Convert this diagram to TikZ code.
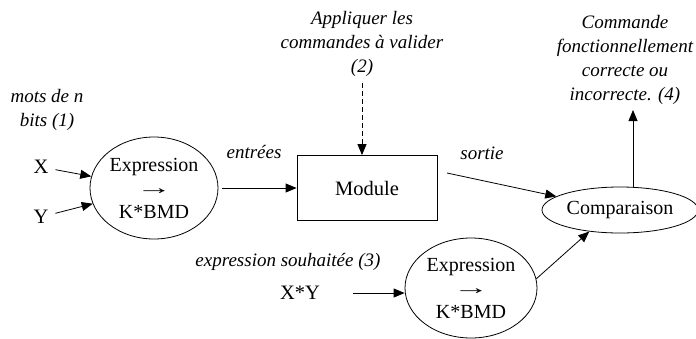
\documentclass[tikz,border=0pt]{standalone}
\usepackage{graphicx}
\usepackage{fontspec}
\setmainfont{Liberation Serif}
\usetikzlibrary{arrows.meta,shapes.geometric}
\newcommand{\longarr}{\scalebox{1.8}[1]{→}}
\begin{document}
\begin{tikzpicture}[x=1pt,y=-1pt,
  txt/.style={font=\fontsize{20.5}{23}\selectfont, inner sep=1pt},
  itx/.style={font=\fontsize{19}{24}\selectfont\itshape, align=center, inner sep=0pt},
  ell/.style={ellipse, draw, line width=0.8pt, inner sep=0pt, align=center, font=\fontsize{20}{23.5}\selectfont},
  arr/.style={-{Triangle[length=11pt,width=9pt]}, line width=0.8pt},
]
\useasboundingbox (0,0) rectangle (696,338);

\node[itx] (mots) at (47,110) {mots de n\\bits (1)};
\node[txt] (X) at (41,167) {X};
\node[txt] (Y) at (41,217) {Y};
\node[ell, minimum width=128pt, minimum height=102pt] (e1) at (154,188) {Expression\\\longarr\\K*BMD};
\node[itx] (ent) at (254,152) {entrées};
\node[txt, draw, line width=0.8pt, minimum width=140pt, minimum height=65pt] (mod) at (367,188) {Module};
\node[itx] (app) at (362,44) {Appliquer les\\commandes à valider\\(2)};
\node[itx] (sor) at (482,153) {sortie};
\node[ell, minimum width=156pt, minimum height=46pt] (comp) at (620,210) {Comparaison};
\node[itx] (cmd) at (625,60) {Commande\\fonctionnellement\\correcte ou\\incorrecte. (4)};
\node[itx] (sou) at (288,262) {expression souhaitée (3)};
\node[txt] (xy) at (300,293) {X*Y};
\node[ell, minimum width=132pt, minimum height=100pt] (e2) at (471,288) {Expression\\\longarr\\K*BMD};

\coordinate (s0) at (447,173);
\coordinate (up) at (633,110);

\draw[arr, shorten <=6pt] (X) -- (e1);
\draw[arr, shorten <=6pt] (Y) -- (e1);
\draw[arr, shorten <=4pt] (e1) -- (mod);
\draw[arr, dash pattern=on 5pt off 3pt, shorten <=6pt] (app.south) -- (app.south |- mod.north);
\draw[arr] (s0) -- (comp);
\draw[arr] (e2.8) -- (comp.215);
\draw[arr, shorten <=32pt] (xy.east) -- (xy.east -| e2.west);
\draw[arr] (up |- comp.north) -- (up);
\end{tikzpicture}
\end{document}
